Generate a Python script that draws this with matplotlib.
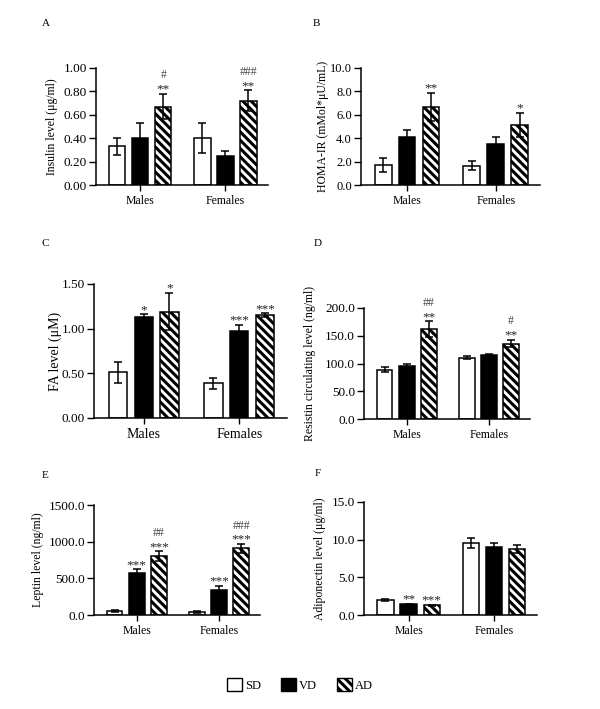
import matplotlib
matplotlib.use("Agg")
import matplotlib.pyplot as plt
from matplotlib.patches import Patch
import numpy as np

plt.rcParams['font.family'] = ['Liberation Serif', 'DejaVu Serif']
plt.rcParams['hatch.linewidth'] = 2.2
plt.rcParams['mathtext.fontset'] = 'stix'

categories = ["Males", "Females"]
groups = ["SD", "VD", "AD"]

# rows: SD, VD, AD ; cols: Males, Females
insulin_mean = [[0.33, 0.40], [0.40, 0.25], [0.67, 0.72]]
insulin_err = [[0.07, 0.13], [0.13, 0.04], [0.11, 0.09]]
insulin_star = [["", ""], ["", ""], ["**", "**"]]
insulin_hash = [["", ""], ["", ""], ["#", "###"]]

homa_mean = [[1.74, 1.65], [4.07, 3.48], [6.70, 5.16]]
homa_err = [[0.60, 0.40], [0.60, 0.62], [1.20, 1.02]]
homa_star = [["", ""], ["", ""], ["**", "*"]]
homa_hash = [["", ""], ["", ""], ["", ""]]

fa_mean = [[0.51, 0.39], [1.13, 0.97], [1.19, 1.15]]
fa_err = [[0.12, 0.06], [0.03, 0.07], [0.21, 0.02]]
fa_star = [["", ""], ["*", "***"], ["*", "***"]]
fa_hash = [["", ""], ["", ""], ["", ""]]

resistin_mean = [[89.0, 110.6], [95.0, 114.8], [162.0, 136.0]]
resistin_err = [[5.0, 2.5], [4.5, 1.5], [14.0, 7.0]]
resistin_star = [["", ""], ["", ""], ["**", "**"]]
resistin_hash = [["", ""], ["", ""], ["##", "#"]]

leptin_mean = [[58.0, 42.0], [573.0, 341.0], [800.0, 909.0]]
leptin_err = [[15.0, 12.0], [50.0, 58.0], [66.0, 62.0]]
leptin_star = [["", ""], ["***", "***"], ["***", "***"]]
leptin_hash = [["", ""], ["", ""], ["##", "###"]]

adipo_mean = [[1.94, 9.58], [1.41, 9.00], [1.28, 8.78]]
adipo_err = [[0.13, 0.70], [0.10, 0.62], [0.10, 0.52]]
adipo_star = [["", ""], ["**", ""], ["***", ""]]
adipo_hash = [["", ""], ["", ""], ["", ""]]

W, H = 600, 709
fig = plt.figure(figsize=(6.0, 7.09), dpi=100)

def ax_px(left, right, top, bottom):
    return fig.add_axes([left / W, 1 - bottom / H, (right - left) / W, (bottom - top) / H])

face = ["white", "black", "white"]
hatch = [None, None, "\\\\\\\\"]

def panel(ax, means, errs, stars, hashes, ylabel, yticks, fmt, letter, letter_xy,
          ylabel_x, tick_fs=9.5, cat_fs=8.5, lab_fs=8.5, xlim=(-0.52, 1.5)):
    x = np.arange(len(categories))
    off = 0.27
    wid = 0.19
    for i in range(3):
        xp = x + (i - 1) * off
        ax.bar(xp, means[i], width=wid, color=face[i], edgecolor="black",
               linewidth=1.1, hatch=hatch[i], zorder=2)
        ax.errorbar(xp, means[i], yerr=errs[i], fmt="none", ecolor="black",
                    elinewidth=1.1, capsize=3.2, capthick=1.1, zorder=3)
        for j in range(len(categories)):
            top = means[i][j] + errs[i][j]
            if stars[i][j]:
                ax.annotate(stars[i][j], xy=(xp[j], top), xytext=(0, 1.0),
                            textcoords="offset points", ha="center", va="baseline",
                            fontsize=9.5, color="#222222")
            if hashes[i][j]:
                ax.annotate(hashes[i][j], xy=(xp[j], top), xytext=(0, 11.0),
                            textcoords="offset points", ha="center", va="baseline",
                            fontsize=8.5, color="#444444")
    ax.set_xlim(*xlim)
    ax.set_ylim(yticks[0], yticks[-1])
    ax.set_yticks(yticks)
    ax.set_yticklabels([fmt % v for v in yticks], fontsize=tick_fs)
    ax.set_xticks(x)
    ax.set_xticklabels(categories, fontsize=cat_fs)
    for s in ["top", "right"]:
        ax.spines[s].set_visible(False)
    for s in ["left", "bottom"]:
        ax.spines[s].set_linewidth(1.1)
    ax.tick_params(axis="y", length=5, width=1.0, pad=1.5)
    ax.tick_params(axis="x", length=4, width=1.0, pad=3)
    ax.set_ylabel(ylabel, fontsize=lab_fs)
    bb = ax.get_position()
    lx = (ylabel_x / W - bb.x0) / bb.width
    ax.yaxis.set_label_coords(lx, 0.5)
    fig.text(letter_xy[0] / W, 1 - letter_xy[1] / H, letter, fontsize=8,
             ha="center", va="center")

axA = ax_px(96, 268, 68, 185)
panel(axA, insulin_mean, insulin_err, insulin_star, insulin_hash,
      "Insulin level (μg/ml)", [0, 0.2, 0.4, 0.6, 0.8, 1.0], "%.2f", "A", (46, 24), 58)

axB = ax_px(361, 540, 68, 185)
panel(axB, homa_mean, homa_err, homa_star, homa_hash,
      "HOMA-IR (mMol*μU/mL)", [0, 2, 4, 6, 8, 10], "%.1f", "B", (316, 24), 329,
      tick_fs=9)

axC = ax_px(94, 287, 284, 418)
panel(axC, fa_mean, fa_err, fa_star, fa_hash,
      "FA level (μM)", [0, 0.5, 1.0, 1.5], "%.2f", "C", (45, 243), 62,
      tick_fs=9.5, cat_fs=10, lab_fs=10)

axD = ax_px(364, 530, 308, 419)
panel(axD, resistin_mean, resistin_err, resistin_star, resistin_hash,
      "Resistin circulating level (ng/ml)", [0, 50, 100, 150, 200], "%.1f", "D", (318, 243), 316)

axE = ax_px(94, 260, 505, 615)
panel(axE, leptin_mean, leptin_err, leptin_star, leptin_hash,
      "Leptin level (ng/ml)", [0, 500, 1000, 1500], "%.1f", "E", (45, 475), 44)

axF = ax_px(364, 537, 502, 615)
panel(axF, adipo_mean, adipo_err, adipo_star, adipo_hash,
      "Adiponectin level (μg/ml)", [0, 5, 10, 15], "%.1f", "F", (318, 474), 326)

handles = [Patch(facecolor=face[i], edgecolor="black", linewidth=1.0,
                 hatch=hatch[i], label=groups[i]) for i in range(3)]
fig.legend(handles=handles, loc="center", bbox_to_anchor=(300 / W, 1 - 685 / H),
           ncol=3, frameon=False, fontsize=9, handlelength=1.2, handleheight=1.15,
           handletextpad=0.25, columnspacing=1.6)

fig.savefig("out.png", dpi=100, facecolor="white")
